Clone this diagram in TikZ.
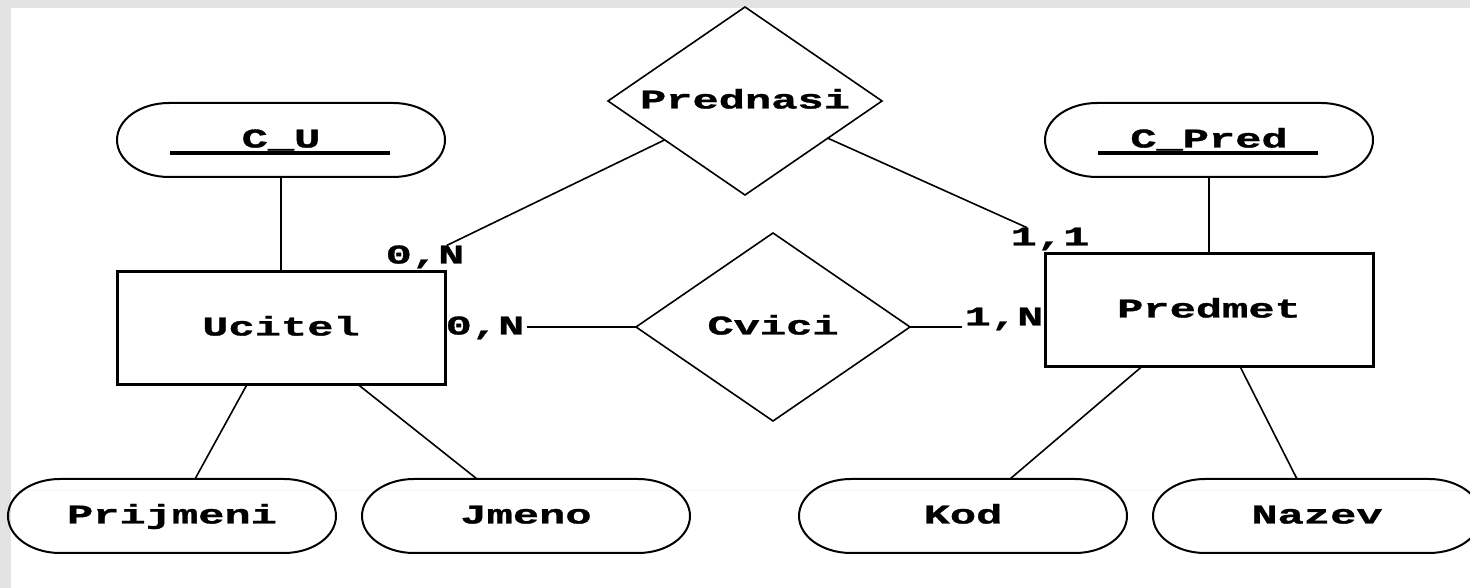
\documentclass[tikz,border=0pt]{standalone}
\usepackage{fontspec}
\newfontfamily\erfont{Liberation Mono}[FakeStretch=1.62,FakeBold=1.2]
\usetikzlibrary{shapes.geometric}

\tikzset{
  er/.style={font=\erfont\bfseries\fontsize{27}{27}\selectfont,
    text height=15pt, text depth=0pt, inner sep=0pt, outer sep=0pt},
  entity/.style={er, draw, line width=3pt, minimum width=328pt, minimum height=113pt},
  relation/.style={er, diamond, aspect=1.46, draw, line width=1.6pt, minimum width=274pt, minimum height=188pt},
  attr/.style={er, minimum width=328pt, minimum height=74pt},
  card/.style={er, inner sep=3pt},
  link/.style={line width=1.6pt},
}

\begin{document}
\begin{tikzpicture}[x=1pt,y=1pt]
  \useasboundingbox (0,0) rectangle (1470,588);
  % paper and its grey edge
  \fill[gray!22] (0,0) rectangle (1470,588);
  \fill[white] (11,0) rectangle (1470,580);
  \draw[gray!8,line width=1pt] (11,97) -- (1470,97);

  % entities and relationships
  \node[entity] (ucitel) at (281,260) {Ucitel};
  \node[entity] (predmet) at (1209,278) {Predmet};
  \node[relation] (prednasi) at (745,487) {Prednasi};
  \node[relation] (cvici) at (773,261) {Cvici};

  % attributes
  \node[attr] (cu) at (281,448) {C\_U};
  \node[attr] (cpred) at (1209,448) {C\_Pred};
  \node[attr] (prijmeni) at (172,72) {Prijmeni};
  \node[attr] (jmeno) at (526,72) {Jmeno};
  \node[attr] (kod) at (963,72) {Kod};
  \node[attr] (nazev) at (1317,72) {Nazev};
  \foreach \a in {cu,cpred,prijmeni,jmeno,kod,nazev}
    \draw[line width=2pt] ([xshift=52pt]\a.north west) -- ([xshift=-52pt]\a.north east)
      arc[start angle=90,end angle=-90,x radius=52pt,y radius=37pt]
      -- ([xshift=52pt]\a.south west)
      arc[start angle=270,end angle=90,x radius=52pt,y radius=37pt] -- cycle;
  % key underlines
  \foreach \a in {cu,cpred}
    \draw[line width=4pt] ([xshift=53pt,yshift=-13pt]\a.west) -- ([xshift=-55pt,yshift=-13pt]\a.east);

  % cardinalities
  \node[card] (un1) at (425,332) {0,N};
  \node[card] (un2) at (485,261) {0,N};
  \node[card] (p11) at (1050,350) {1,1};
  \node[card] (p1n) at (1004,270) {1,N};

  % connectors
  \draw[link] (cu) -- (ucitel);
  \draw[link] (cpred) -- (predmet);
  \draw[link] ([xshift=-34pt]ucitel.south) -- ([xshift=23pt]prijmeni.north);
  \draw[link] ([xshift=77pt]ucitel.south) -- ([xshift=-49pt]jmeno.north);
  \draw[link] ([xshift=-67pt]predmet.south) -- ([xshift=47pt]kod.north);
  \draw[link] ([xshift=31pt]predmet.south) -- ([xshift=-20pt]nazev.north);
  \draw[link] (prednasi) -- (un1);
  \draw[link] (prednasi) -- (p11);
  \draw[link] (cvici.west) -- (cvici.west -| un2.east);
  \draw[link] (cvici.east) -- (cvici.east -| p1n.west);
\end{tikzpicture}
\end{document}
